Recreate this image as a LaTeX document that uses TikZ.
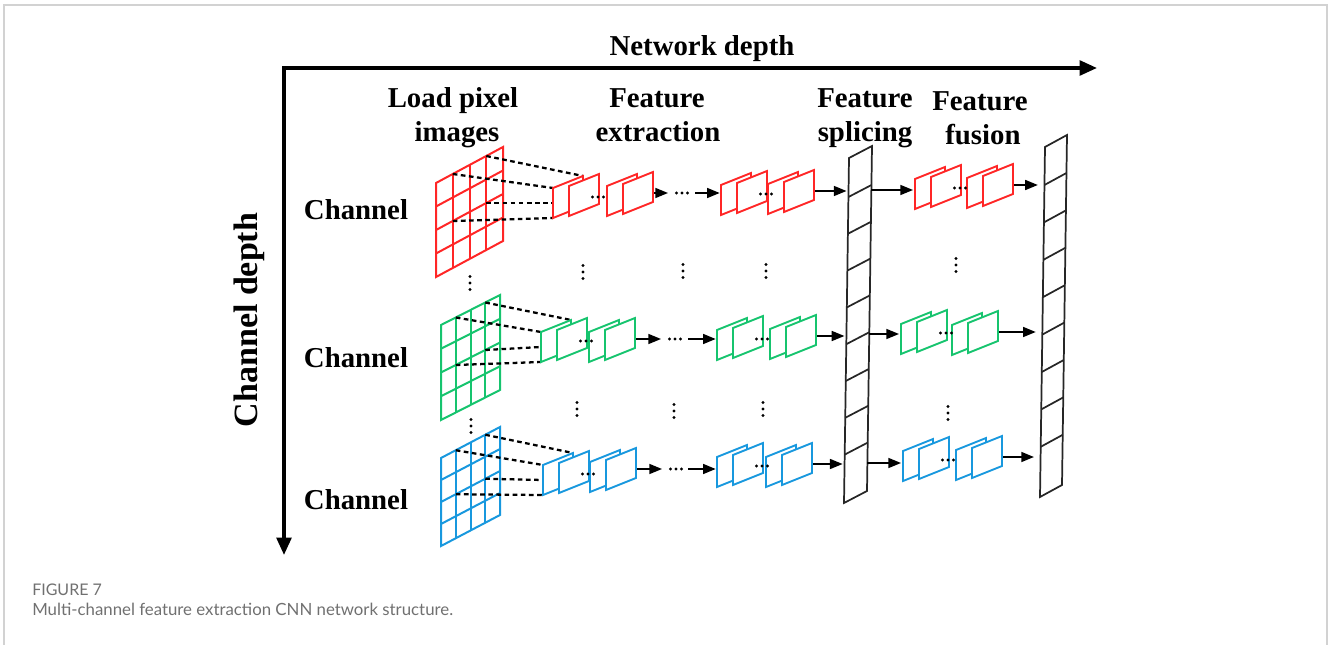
\documentclass[tikz,border=0pt]{standalone}
\usepackage{fontspec}
\setmainfont{Liberation Serif}
\newfontfamily\capfont{Lato}
\usetikzlibrary{arrows.meta,calc}

\definecolor{fmred}{RGB}{255,38,38}
\definecolor{fmgreen}{RGB}{22,196,110}
\definecolor{fmblue}{RGB}{24,152,222}
\definecolor{framegray}{RGB}{210,210,210}
\definecolor{capgray}{RGB}{112,112,112}

\pgfdeclarelayer{maps}
\pgfsetlayers{main,maps}

\tikzset{
  axis/.style={line width=2.6pt,{Triangle[length=13pt,width=11pt]}-{Triangle[length=13pt,width=11pt]}},
  flow/.style={line width=1.2pt,-{Triangle[length=9.5pt,width=7.5pt]}},
  mapline/.style={line width=1.4pt,line join=miter},
  gridline/.style={line width=1.5pt},
  tap/.style={line width=1.7pt,dash pattern=on 3.5pt off 2.6pt},
  barline/.style={line width=1.3pt,draw=black!85,line join=miter},
  hdr/.style={font=\fontsize{21.6}{26}\selectfont\bfseries,inner sep=0pt},
  caption/.style={inner sep=0pt,text=capgray,anchor=base west},
}

% 4x4 input pixel grid: name, top-left x, y, width, rise, height, colour
\newcommand\fmgrid[7]{%
  \draw[gridline,#7] (#2,#3) -- ++(#4,-#5) -- ++(0,#6) -- ++(-#4,#5) -- cycle;
  \foreach \k in {1,2,3}{%
    \draw[gridline,#7] ({#2+\k*#4/4},{#3-\k*#5/4}) -- ++(0,#6);
    \draw[gridline,#7] (#2,{#3+\k*#6/4}) -- ++(#4,-#5);
  }
  \coordinate (#1-a) at ({#2+3*#4/4},{#3-3*#5/4});
  \coordinate (#1-b) at ({#2+#4/4},{#3-#5/4});
  \coordinate (#1-c) at ({#2+3*#4/4},{#3-3*#5/4+#6/2});
  \coordinate (#1-d) at ({#2+#4/4},{#3-#5/4+#6/2});
}

% one feature map seen in perspective: top-left x, y, colour
\newcommand\fmap[3]{%
  \draw[mapline,#3,fill=white] (#1,#2) -- ++(30,-12) -- ++(0,30) -- ++(-30,12) -- cycle;}

% a pair of stacked feature maps: name, front top-left x, y, colour
\newcommand\fpair[4]{%
  \fmap{#2-16}{#3+2}{#4}
  \fmap{#2}{#3}{#4}
  \coordinate (#1-c) at (#2+15,#3+9);
  \coordinate (#1-btl) at (#2-16,#3+2);
  \coordinate (#1-btr) at (#2+14,#3-10);
  \coordinate (#1-bml) at (#2-16,#3+17);
  \coordinate (#1-bbl) at (#2-16,#3+32);
}

% horizontal and vertical ellipsis dots around a named point
\newcommand\hdts[1]{\foreach \i in {-5.5,0,5.5} \fill ($(#1)+(\i,0)$) circle (1.15pt);}
\newcommand\vdts[1]{\foreach \i in {-6.5,0,6.5} \fill ($(#1)+(0,\i)$) circle (1.2pt);}

% two pairs of feature maps with dots between them
\newcommand\fgroup[6]{%
  \begin{pgfonlayer}{maps}
    \fpair{#1-1}{#2}{#3}{#6}
    \fpair{#1-2}{#4}{#5}{#6}
    \coordinate (#1-dots) at (#2+29,#3+11);
    \hdts{#1-dots}
  \end{pgfonlayer}
}

\begin{document}
\begin{tikzpicture}[x=0.75pt,y=-0.75pt]
\useasboundingbox (0,0) rectangle (1328,645);

% page frame
\draw[framegray,line width=1.1pt] (4,645) -- (4,5) -- (1327,5) -- (1327,645);

% axes
\coordinate (o) at (284,68);
\coordinate (xend) at (1097,68);
\coordinate (yend) at (284,555);
\draw[axis] (xend) -- (o) -- (yend);
\node[hdr,anchor=base] (t-net) at (702,56) {Network depth};
\node[font=\fontsize{25.5}{30}\selectfont\bfseries,rotate=90,inner sep=0pt] (t-depth) at (249,320) {Channel depth};

% column headings
\node[hdr,anchor=base] (t-load1) at (453,108) {Load pixel};
\node[hdr,anchor=base] (t-load2) at (457,142) {images};
\node[hdr,anchor=base] (t-ext1) at (657,108) {Feature};
\node[hdr,anchor=base] (t-ext2) at (658,142) {extraction};
\node[hdr,anchor=base] (t-spl1) at (865,108) {Feature};
\node[hdr,anchor=base] (t-spl2) at (865,142) {splicing};
\node[hdr,anchor=base] (t-fus1) at (980,111) {Feature};
\node[hdr,anchor=base] (t-fus2) at (983,145) {fusion};

% row labels
\node[hdr,anchor=base] (ch-r) at (356,220) {Channel};
\node[hdr,anchor=base] (ch-g) at (356,368) {Channel};
\node[hdr,anchor=base] (ch-b) at (356,509) {Channel};

% ---- splicing vector
\coordinate (s-tl) at (849,158);
\coordinate (s-bl) at (844,503);
\draw[barline] (s-tl) -- ++(23,-12) -- ++(-5,345) -- (s-bl) -- cycle;
\foreach \k in {0,...,7}
  \draw[barline] ({849-5*(36.8*\k+39)/345},{197+36.8*\k}) -- ++(23,-12);

% ---- fused vector
\coordinate (f-tl) at (1045,147);
\coordinate (f-bl) at (1040,497);
\draw[barline] (f-tl) -- ++(22,-12) -- ++(-5,350) -- (f-bl) -- cycle;
\foreach \k in {0,...,7}
  \draw[barline] ({1045-5*(37.4*\k+38)/350},{185+37.4*\k}) -- ++(22,-12);

% ================= red channel
\fmgrid{rg}{436}{183}{67}{36}{94}{fmred}
\fgroup{re}{569}{186}{623}{184}{fmred}
\fgroup{rx}{737}{183}{784}{182}{fmred}
\fgroup{rf}{931}{177}{983}{176}{fmred}
\draw[tap] (rg-a) -- (re-1-btr);
\draw[tap] (rg-b) -- (re-1-btl);
\draw[tap] (rg-c) -- (re-1-bml);
\draw[tap] (rg-d) -- (re-1-bbl);
\coordinate (r-a1) at ($(re-2-c)+(30,0)$);
\coordinate (r-d1) at ($(re-2-c)+(44,0)$);
\coordinate (r-a2) at ($(re-2-c)+(57,0)$);
\draw[flow] (re-2-c) -- (r-a1);
\hdts{r-d1}
\draw[flow,shorten >=1pt] (r-a2) -- (r-a2 -| rx-1-bml);
\coordinate (s-r) at (848.5,191);
\draw[flow,shorten >=1.5pt] (rx-2-c) -- (s-r);
\coordinate (s-or) at (871.4,190);
\draw[flow,shorten >=1.5pt] (s-or) -- (s-or -| rf-1-bml);
\coordinate (f-r) at (1044.5,185);
\draw[flow,shorten >=5pt] (rf-2-c) -- (f-r);

% ================= green channel
\fmgrid{gg}{441}{325}{59}{30}{95}{fmgreen}
\fgroup{ge}{557}{330}{605}{330}{fmgreen}
\fgroup{gx}{733}{328}{786}{327}{fmgreen}
\fgroup{gf}{917}{322}{968}{323}{fmgreen}
\draw[tap] (gg-a) -- (ge-1-btr);
\draw[tap] (gg-b) -- (ge-1-btl);
\draw[tap] (gg-c) -- (ge-1-bml);
\draw[tap] (gg-d) -- (ge-1-bbl);
\coordinate (g-a1) at ($(ge-2-c)+(41,0)$);
\coordinate (g-d1) at ($(ge-2-c)+(55,0)$);
\coordinate (g-a2) at ($(ge-2-c)+(68,0)$);
\draw[flow] (ge-2-c) -- (g-a1);
\hdts{g-d1}
\draw[flow,shorten >=1pt] (g-a2) -- (g-a2 -| gx-1-bml);
\coordinate (s-g) at (846.4,336);
\draw[flow,shorten >=1.5pt] (gx-2-c) -- (s-g);
\coordinate (s-og) at (869.3,334);
\draw[flow,shorten >=1.5pt] (s-og) -- (s-og -| gf-1-bml);
\coordinate (f-g) at (1042.4,332);
\draw[flow,shorten >=5pt] (gf-2-c) -- (f-g);

% ================= blue channel
\fmgrid{bg}{441}{458}{59}{31}{88}{fmblue}
\fgroup{be}{559}{463}{606}{460}{fmblue}
\fgroup{bx}{733}{455}{782}{455}{fmblue}
\fgroup{bf}{919}{449}{972}{448}{fmblue}
\draw[tap] (bg-a) -- (be-1-btr);
\draw[tap] (bg-b) -- (be-1-btl);
\draw[tap] (bg-c) -- (be-1-bml);
\draw[tap] (bg-d) -- (be-1-bbl);
\coordinate (b-a1) at ($(be-2-c)+(41,0)$);
\coordinate (b-d1) at ($(be-2-c)+(55,0)$);
\coordinate (b-a2) at ($(be-2-c)+(67,0)$);
\draw[flow] (be-2-c) -- (b-a1);
\hdts{b-d1}
\draw[flow,shorten >=1pt] (b-a2) -- (b-a2 -| bx-1-bml);
\coordinate (s-b) at (844.6,464);
\draw[flow,shorten >=1.5pt] (bx-2-c) -- (s-b);
\coordinate (s-ob) at (867.4,463);
\draw[flow,shorten >=1.5pt] (s-ob) -- (s-ob -| bf-1-bml);
\coordinate (f-b) at (1040.6,457);
\draw[flow,shorten >=5pt] (bf-2-c) -- (f-b);

% vertical ellipses between channels
\foreach \px/\py [count=\n] in {470/283,583/272,683/271,766/271,956/265,471/426,577/409,674/411,763/409,948/413}{
  \coordinate (vd-\n) at (\px,\py);
  \vdts{vd-\n}
}

% caption
\node[caption,font=\capfont\fontsize{12}{14}\selectfont] (cap1) at (32,595) {FIGURE 7};
\node[caption,font=\capfont\fontsize{12.6}{15}\selectfont] (cap2) at (32,615) {Multi-channel feature extraction CNN network structure.};
\end{tikzpicture}
\end{document}
